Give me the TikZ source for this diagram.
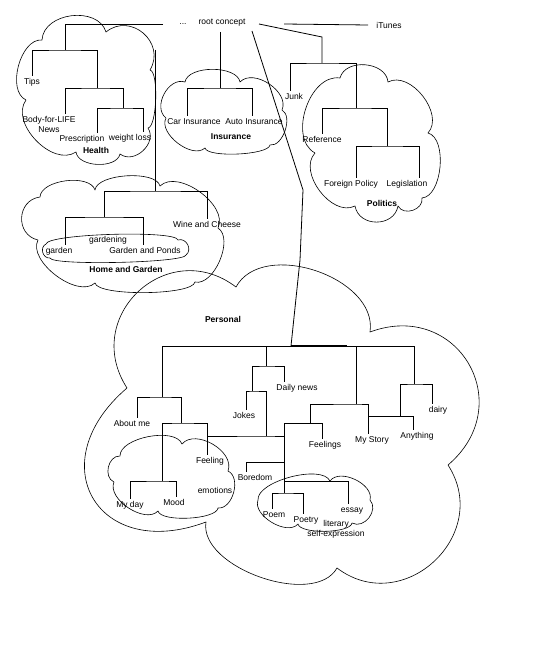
\documentclass[tikz,border=0pt]{standalone}
\usepackage{fontspec}
\setmainfont{Liberation Sans}

\newcommand{\lblfont}{\fontsize{8.5}{10}\selectfont}

\begin{document}
\begin{tikzpicture}[x=1pt, y=-1pt, line width=0.8pt,
  lbl/.style={font=\lblfont, inner sep=1pt, text height=7.5pt, text depth=0.5pt},
  grp/.style={lbl, font=\lblfont\bfseries},
  two/.style={font=\lblfont, inner sep=1pt, align=center},
  cloudline/.style={line width=0.6pt, line join=round},
  puff/.style={bend left=80, looseness=#1}, puff/.default=1]
\useasboundingbox (0,0) rectangle (556,660);

% clouds
\draw[cloudline] (26,100) to[puff=0.9] (42,40) to[puff=1.1] (106,32) to[puff=1.4] (150,70)
  to[puff=0.4] (148,128) to[puff=1.2] (120,154) to[puff=0.9] (76,152) to[puff=1.0] (26,100);
\draw[cloudline] (166,118) to[puff=1.1] (185,82) to[puff=0.8] (240,82) to[puff=1.0] (282,110)
  to[puff=0.9] (270,145) to[puff=0.4] (205,148) to[puff=0.9] (166,118);
\draw[cloudline] (315,153) to[puff=1.0] (340,78) to[puff=1.1] (388,82) to[puff=1.0] (428,133)
  to[puff=0.8] (422,198) to[puff=1.2] (398,206) to[puff=1.3] (355,206) to[puff=1.0] (315,153);
\draw[cloudline] (38,240) to[puff=1.4] (40,197) to[puff=0.8] (95,190) to[puff=0.65] (160,186)
  to[puff=0.9] (218,228) to[puff=0.85] (195,282) to[puff=0.35] (95,283) to[puff=0.85] (38,240);
\draw[cloudline] (46,244) to[puff=0.2] (178,240) to[puff=1.3] (186,255) to[puff=0.15] (50,258)
  to[puff=1.3] (46,244);
\draw[cloudline] (127,388) to[puff=1.47] (236,287) to[puff=1.0] (370,332) to[puff=1.55] (448,465)
  to[puff=1.4] (337,568) to[puff=0.85] (206,522) to[puff=1.9] (127,388);
\draw[cloudline] (114,482) to[puff=1.15] (120,456) to[puff=0.75] (182,444) to[puff=1.0] (228,471)
  to[puff=1.0] (218,508) to[puff=0.5] (158,511) to[puff=0.9] (114,482);
\draw[cloudline] (258,500) to[puff=0.65] (330,481) to[puff=0.95] (370,500) to[puff=1.2] (352,523)
  to[puff=0.5] (298,524) to[puff=0.9] (258,500);

% concepts
\node[lbl] (dots) at (183,21) {...};
\node[lbl] (root) at (222,21) {root concept};
\node[lbl] (itunes) at (389,25) {iTunes};
\node[lbl] (tips) at (32,81) {Tips};
\node[two] (bfl) at (49,124) {Body-for-LIFE\\News};
\node[lbl] (presc) at (82,138) {Prescription};
\node[lbl] (wloss) at (130,137) {weight loss};
\node[grp] (health) at (96,150) {Health};
\node[lbl] (car) at (194,121) {Car Insurance};
\node[lbl] (auto) at (254,121) {Auto Insurance};
\node[grp] (insur) at (231,136) {Insurance};
\node[lbl] (junk) at (294,96) {Junk};
\node[lbl] (ref) at (322,139) {Reference};
\node[lbl] (fp) at (351,183) {Foreign Policy};
\node[lbl] (leg) at (407,183) {Legislation};
\node[grp] (politics) at (382,203) {Politics};
\node[lbl] (wine) at (207,224) {Wine and Cheese};
\node[lbl] (gardening) at (108,239) {gardening};
\node[lbl] (garden) at (59,250) {garden};
\node[lbl] (gponds) at (145,250) {Garden and Ponds};
\node[grp] (homegarden) at (126,269) {Home and Garden};
\node[grp] (personal) at (223,319) {Personal};
\node[lbl] (dnews) at (297,387) {Daily news};
\node[lbl] (dairy) at (438,409) {dairy};
\node[lbl] (jokes) at (244,415) {Jokes};
\node[lbl] (aboutme) at (132,423) {About me};
\node[lbl] (anything) at (417,435) {Anything};
\node[lbl] (mystory) at (372,439) {My Story};
\node[lbl] (feelings) at (325,444) {Feelings};
\node[lbl] (feeling) at (210,460) {Feeling};
\node[lbl] (boredom) at (255,477) {Boredom};
\node[lbl] (emotions) at (215,490) {emotions};
\node[lbl] (mood) at (174,502) {Mood};
\node[lbl] (myday) at (130,504) {My day};
\node[lbl] (essay) at (352,509) {essay};
\node[lbl] (poem) at (274,514) {Poem};
\node[lbl] (poetry) at (306,519) {Poetry};
\node[two] (literary) at (336,529) {literary\\self-expression};

% branch points
\coordinate (rootL) at (163,24);
\coordinate (rootB) at (220,32);
\coordinate (rootD) at (252,31);
\coordinate (rootR) at (259,24);
\coordinate (itL) at (284,24);
\coordinate (hgTop) at (155,50);
\coordinate (h1) at (65,50);
\coordinate (h2) at (97,88);
\coordinate (h3) at (123,108);
\coordinate (i1) at (220,88);
\coordinate (p0) at (322,37);
\coordinate (p1) at (322,63);
\coordinate (p2) at (356,108);
\coordinate (p3) at (387,146);
\coordinate (g1) at (155,191);
\coordinate (g2) at (104,217);
\coordinate (d1) at (303,190);
\coordinate (d2) at (300,260);
\coordinate (pr0) at (291,346);
\coordinate (pr1) at (347,346);
\coordinate (a1) at (162,346);
\coordinate (a2) at (162,397);
\coordinate (a3) at (181,423);
\coordinate (a4) at (162,481);
\coordinate (b1) at (266,346);
\coordinate (b2) at (266,366);
\coordinate (b3) at (252,391);
\coordinate (b4) at (266,436);
\coordinate (c1) at (356,346);
\coordinate (c2) at (356,404);
\coordinate (e1) at (414,346);
\coordinate (e2) at (414,384);
\coordinate (e3) at (400,416);
\coordinate (e5) at (368,416);
\coordinate (f0) at (310,423);
\coordinate (f1) at (284,423);
\coordinate (f2) at (284,462);
\coordinate (f3) at (284,481);
\coordinate (f4) at (284,493);

% links
\draw (itL) -- ([xshift=-7]itunes.west);
\draw (rootL) -| (h1);
\draw (tips.north) |- (h1) -| (h2);
\draw ([xshift=16]bfl.north) |- (h2) -| (h3);
\draw ([xshift=15]presc.north) |- (h3) -| ([xshift=13]wloss.north);
\draw (rootB) -- (i1);
\draw ([xshift=-7]car.north) |- (i1) -| ([xshift=-2]auto.north);
\draw (rootR) -- (p0) -- (p1);
\draw ([xshift=-4]junk.north) |- (p1) -| (p2);
\draw (ref.north) |- (p2) -| (p3);
\draw ([xshift=5]fp.north) |- (p3) -| ([xshift=12]leg.north);
\draw (hgTop) -- (g1);
\draw (g2) |- (g1) -| (wine.north);
\draw ([xshift=6]garden.north) |- (g2) -| ([xshift=-2]gponds.north);
\draw (rootD) -- (d1) -- (d2) -- (pr0);
\draw[line width=1.6pt] (pr0) -- (pr1);
\draw (a1) -- (e1);
\draw (a1) -- (a2);
\draw ([xshift=5]aboutme.north) |- (a2) -| (a3);
\draw (a4) |- (a3) -| ([xshift=-3]feeling.north);
\draw (myday.north) |- (a4) -| ([xshift=2]mood.north);
\draw (b1) -- (b2);
\draw (b3) |- (b2) -| ([xshift=-13]dnews.north);
\draw ([xshift=2]jokes.north) |- (b3) -| (b4);
\draw ([xshift=-3]feeling.north) |- (b4) -| (f1);
\draw (c1) -- (c2);
\draw (f0) |- (c2) -| ([xshift=-4]mystory.north);
\draw (f1) -| ([xshift=-3]feelings.north);
\draw (f1) -- (f4);
\draw ([xshift=-9]boredom.north) |- (f2);
\draw (f3) -| ([xshift=-4]essay.north);
\draw ([xshift=-2]poem.north) |- (f4) -| ([xshift=-3]poetry.north);
\draw (e1) -- (e2);
\draw (e3) |- (e2) -| ([xshift=-6]dairy.north);
\draw (e5) -| ([xshift=-4]anything.north);
\end{tikzpicture}
\end{document}
